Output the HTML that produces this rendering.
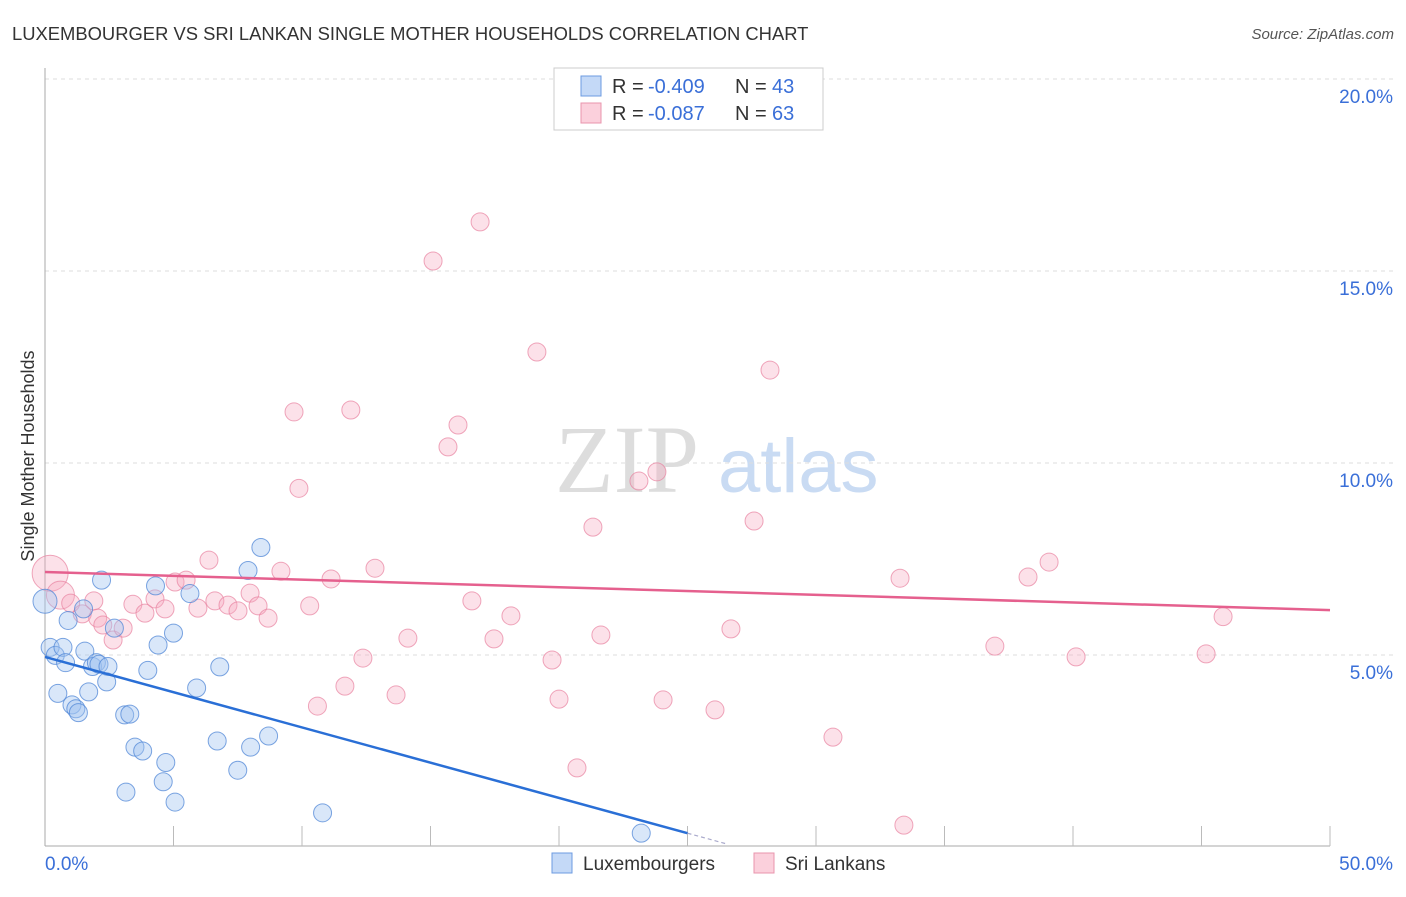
<!DOCTYPE html>
<html><head><meta charset="utf-8"><style>
body{margin:0;background:#fff;font-family:"Liberation Sans",sans-serif}
svg text{font-family:"Liberation Sans",sans-serif}
</style></head><body>
<svg id="c" width="1406" height="892">
<text x="12" y="40" font-size="18.4" fill="#333">LUXEMBOURGER VS SRI LANKAN SINGLE MOTHER HOUSEHOLDS CORRELATION CHART</text>
<text x="1394" y="39" font-size="15" fill="#555" font-style="italic" text-anchor="end">Source: ZipAtlas.com</text>
<text x="555" y="492" font-size="96" fill="#ddd" style="font-family:'Liberation Serif',serif">ZIP</text>
<text x="718" y="492" font-size="76" fill="#c9dbf3">atlas</text>
<g id="grid"></g><g id="pts"></g><g id="lines"></g>
<text transform="translate(34,456) rotate(-90)" font-size="18" fill="#333" text-anchor="middle">Single Mother Households</text>
<g>
<rect x="554" y="68" width="269" height="62" fill="#fff" stroke="#ccc"/>
<rect x="581" y="76" width="20" height="20" fill="#c4d9f7" stroke="#6c9be0"/>
<rect x="581" y="103" width="20" height="20" fill="#fbd0dc" stroke="#e895ad"/>
<text x="612" y="93" font-size="20" fill="#333">R =</text>
<text x="648" y="93" font-size="20" fill="#3a6fd8">-0.409</text>
<text x="735" y="93" font-size="20" fill="#333">N =</text>
<text x="772" y="93" font-size="20" fill="#3a6fd8">43</text>
<text x="612" y="120" font-size="20" fill="#333">R =</text>
<text x="648" y="120" font-size="20" fill="#3a6fd8">-0.087</text>
<text x="735" y="120" font-size="20" fill="#333">N =</text>
<text x="772" y="120" font-size="20" fill="#3a6fd8">63</text>
</g>
<g>
<rect x="552" y="853" width="20" height="20" fill="#c4d9f7" stroke="#6c9be0"/>
<text x="583" y="870" font-size="19" fill="#333">Luxembourgers</text>
<rect x="754" y="853" width="20" height="20" fill="#fbd0dc" stroke="#e895ad"/>
<text x="785" y="870" font-size="19" fill="#333">Sri Lankans</text>
</g>
</svg>
<script>
const yTicks=[5,10,15,20];
const xTickLabels=["0.0%","50.0%"];
const luxX=[0,0.2,0.4,0.7,0.8,0.5,0.9,1.05,1.2,1.3,1.5,1.55,1.7,1.85,2,2.1,2.2,2.45,2.4,2.7,3.1,3.3,3.15,3.5,3.8,4,4.3,4.4,4.6,4.7,5,5.06,5.64,5.9,6.7,6.8,7.5,7.9,8.0,8.4,8.7,10.8,23.2];
const luxY=[6.4,5.2,4.99,5.2,4.8,4.0,5.9,3.7,3.6,3.5,6.2,5.1,4.04,4.7,4.8,4.76,6.95,4.7,4.3,5.7,3.44,3.46,1.43,2.6,2.5,4.6,6.8,5.26,1.7,2.2,5.57,1.17,6.6,4.14,2.76,4.69,2.0,7.2,2.6,7.8,2.89,0.89,0.36];
const lkX=[0.2,0.6,1,1.45,1.9,2.05,2.25,2.65,3.04,3.42,3.89,4.28,4.67,5.06,5.49,5.95,6.38,6.61,7.12,7.51,7.98,8.29,8.68,9.18,9.69,9.88,10.3,10.6,11.13,11.67,11.9,12.37,12.84,13.66,14.12,15.1,15.68,16.07,16.61,16.93,17.47,18.13,19.14,19.73,20.0,20.7,21.32,21.63,23.11,23.81,24.05,26.07,26.69,27.59,28.21,30.66,33.27,33.42,36.96,38.25,39.07,40.12,45.18,45.84];
const lkY=[7.13,6.56,6.35,6.07,6.41,5.96,5.78,5.39,5.7,6.32,6.09,6.46,6.2,6.9,6.95,6.22,7.47,6.41,6.3,6.15,6.61,6.28,5.96,7.18,11.33,9.34,6.28,3.67,6.98,4.19,11.38,4.92,7.26,3.96,5.44,15.26,10.42,10.99,6.41,16.28,5.42,6.02,12.89,4.87,3.85,2.06,8.33,5.52,9.53,9.77,3.83,3.57,5.68,8.49,12.42,2.86,7.0,0.57,5.23,7.03,7.42,4.95,5.03,6.0];
const lkR=[18,14];
const luxTrend=[0,4.95,25,0.36];
const lkTrend=[0,7.16,50,6.17];
const X=v=>45+v*25.7, Y=v=>847-v*38.4;
const ns="http://www.w3.org/2000/svg";
function mk(t,a,p){const e=document.createElementNS(ns,t);for(const k in a)e.setAttribute(k,a[k]);p.appendChild(e);return e;}
const g=document.getElementById('grid');
yTicks.forEach(t=>{
 const l=mk('line',{x1:45,x2:1394,y1:Y(t),y2:Y(t),stroke:'#ddd','stroke-dasharray':'4,4'},g);
 
 
 const tx=mk('text',{x:1393,y:Y(t)+24,'font-size':19,fill:'#3a6fd8','text-anchor':'end'},g);
 tx.textContent=t.toFixed(1)+'%';
 
 
});
mk('line',{x1:45,x2:45,y1:68,y2:846,stroke:'#aaa'},g);
mk('line',{x1:45,x2:1330,y1:846,y2:846,stroke:'#aaa'},g);
for(let i=1;i<=10;i++){const t=mk('line',{x1:X(i*5),x2:X(i*5),y1:826,y2:846,stroke:'#bbb'},g);
 
 }
xTickLabels.forEach((s,i)=>{const t=mk('text',{x:i?1393:45,y:870,'font-size':19,fill:'#3a6fd8','text-anchor':i?'end':'start'},g);t.textContent=s;
 
 });
const p=document.getElementById('pts');
lkX.forEach((v,i)=>{const c=mk('circle',{cx:X(v),cy:Y(lkY[i]),r:lkR[i]||9,fill:'rgba(246,168,192,0.35)',stroke:'rgba(232,130,160,0.7)'},p);
 
 });
luxX.forEach((v,i)=>{const c=mk('circle',{cx:X(v),cy:Y(luxY[i]),r:i==0?12:9,fill:'rgba(160,195,240,0.4)',stroke:'rgba(80,135,215,0.75)'},p);
 
 });
const L=document.getElementById('lines');
const b=mk('line',{x1:X(luxTrend[0]),y1:Y(luxTrend[1]),x2:X(luxTrend[2]),y2:Y(luxTrend[3]),stroke:'#2a6fd6','stroke-width':2.5},L);


const sl=(luxTrend[3]-luxTrend[1])/(luxTrend[2]-luxTrend[0]);
mk('line',{x1:X(luxTrend[2]),y1:Y(luxTrend[3]),x2:X(26.5),y2:Y(luxTrend[3]+sl*1.5),stroke:'#aac','stroke-width':1.2,'stroke-dasharray':'4,3'},L);
const r=mk('line',{x1:X(lkTrend[0]),y1:Y(lkTrend[1]),x2:X(lkTrend[2]),y2:Y(lkTrend[3]),stroke:'#e5608e','stroke-width':2.5},L);


</script>
</body></html>
